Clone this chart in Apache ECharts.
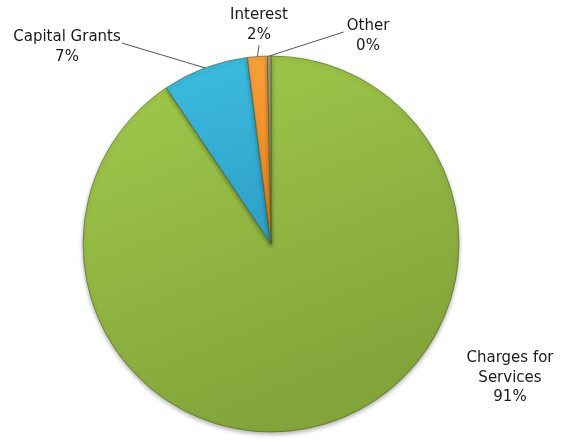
<!DOCTYPE html>
<html><head><meta charset="utf-8">
<script src="https://cdn.jsdelivr.net/npm/echarts@6/dist/echarts.min.js"></script>
<style>html,body{margin:0;padding:0;background:#fff}#c{width:580px;height:443px}</style>
</head><body><div id="c"></div>
<script>
// ---- data ----
const categories = ['Charges for Services', 'Capital Grants', 'Interest', 'Other'];
const labelTexts = ['Charges for\nServices', 'Capital Grants', 'Interest', 'Other'];
const values = [90.6, 7.4, 1.7, 0.3];
const percentLabels = ['91%', '7%', '2%', '0%'];

// ---- styling ----
const sliceColors = [
  ['#A1CB4C', '#83A43A'],
  ['#3DBCE2', '#2FA0C6'],
  ['#F9A03A', '#E67F17'],
  ['#A89B8A', '#7E7264']
];
const labelAnchors = [
  { x: 510, y: 378 },
  { x: 67, y: 47 },
  { x: 259, y: 25 },
  { x: 368, y: 36 }
];

const chart = echarts.init(document.getElementById('c'), null, { renderer: 'canvas' });
const data = categories.map((name, i) => ({
  name: name,
  value: values[i],
  itemStyle: {
    color: new echarts.graphic.LinearGradient(0, 0, 0.4, 1, [
      { offset: 0, color: sliceColors[i][0] },
      { offset: 1, color: sliceColors[i][1] }
    ])
  },
  labelLine: { show: i !== 0 }
}));

chart.setOption({
  animation: false,
  backgroundColor: '#ffffff',
  series: [{
    type: 'pie',
    center: [271, 244],
    radius: 188,
    startAngle: 90,
    clockwise: true,
    avoidLabelOverlap: false,
    data: data,
    itemStyle: {
      borderColor: 'rgba(80,100,35,0.6)',
      borderWidth: 1,
      shadowColor: 'rgba(0,0,0,0.3)',
      shadowBlur: 4,
      shadowOffsetY: 2
    },
    label: {
      show: true,
      position: 'outside',
      fontFamily: 'DejaVu Sans',
      fontSize: 15,
      lineHeight: 19.5,
      color: '#1a1a1a',
      align: 'center',
      formatter: p => labelTexts[p.dataIndex] + '\n' + percentLabels[p.dataIndex]
    },
    labelLine: {
      show: true,
      lineStyle: { color: '#555555', width: 1 }
    },
    labelLayout: function (params) {
      const i = params.dataIndex;
      const a = labelAnchors[i];
      const w = params.labelRect.width, h = params.labelRect.height;
      const res = { x: a.x, y: a.y, align: 'center', verticalAlign: 'middle' };
      if (params.labelLinePoints && i !== 0) {
        const p0 = params.labelLinePoints[0];
        let end;
        if (i === 1) end = [a.x + w / 2 + 1, a.y - 4];
        else if (i === 2) end = [a.x, a.y + h / 2 + 1];
        else end = [a.x - w / 2 - 3, a.y - 4];
        res.labelLinePoints = [p0, end, end];
      }
      return res;
    }
  }]
});
</script>
</body></html>
